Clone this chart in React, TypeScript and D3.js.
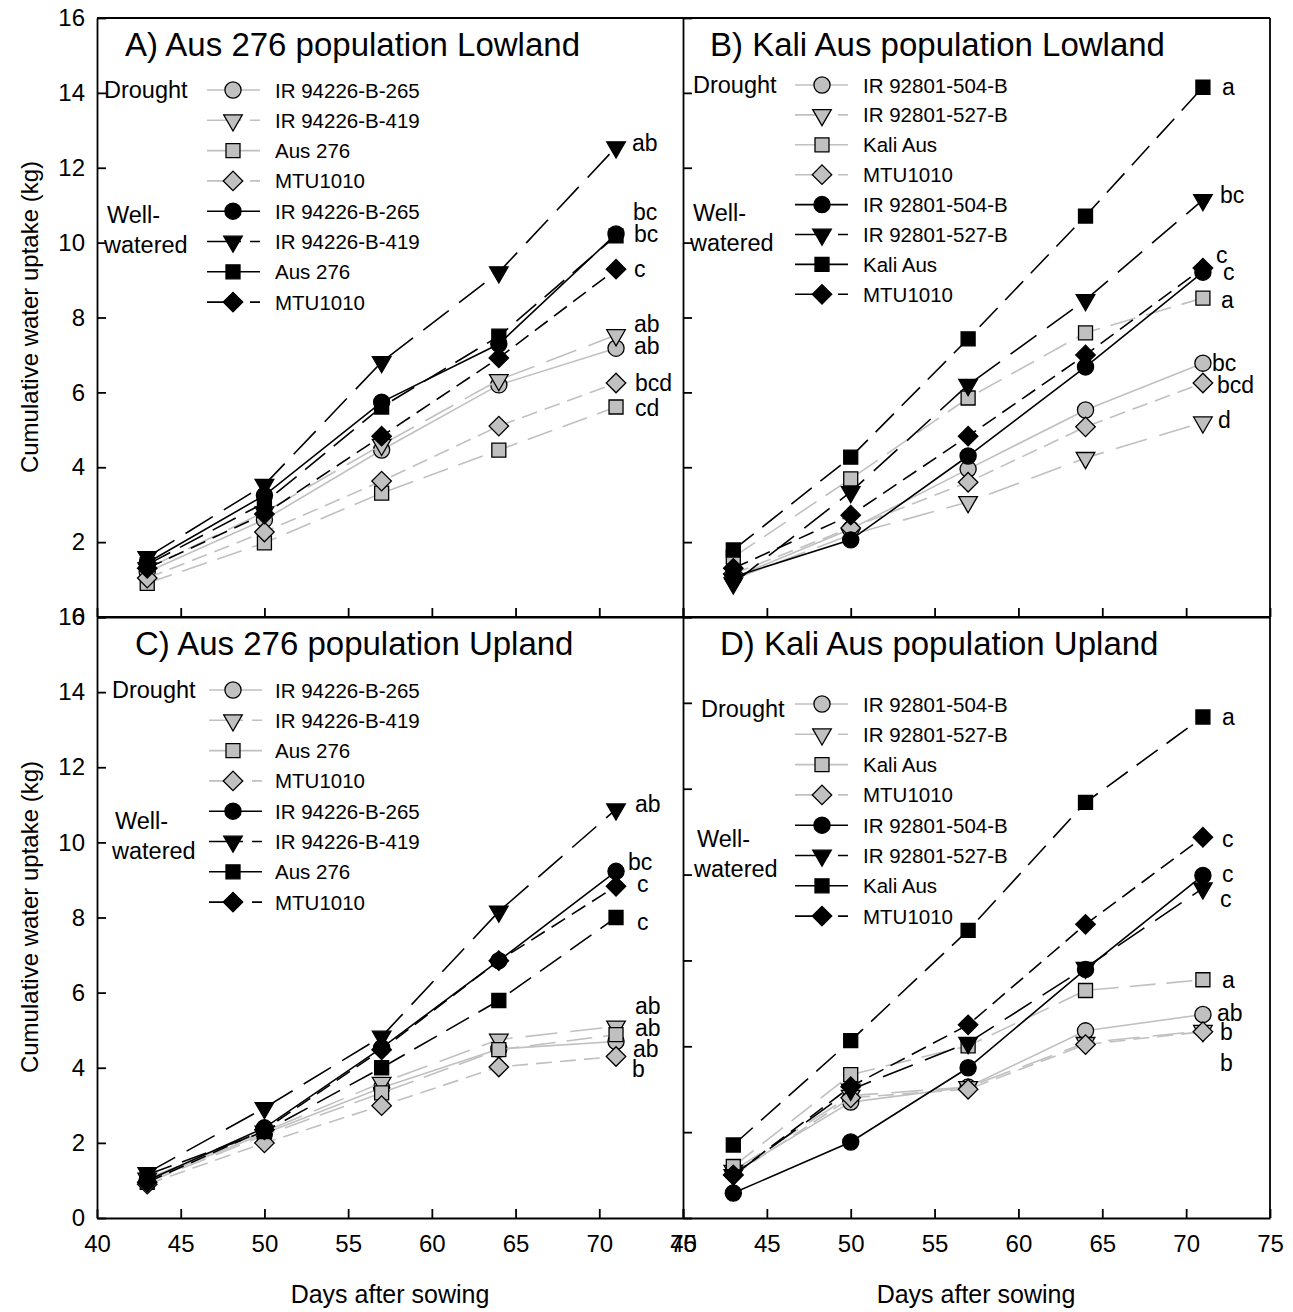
import React, { useEffect, useRef } from 'react';
import * as d3 from 'd3';

// sampling days (x)
const days = [43, 50, 57, 64, 71];
const xTicks = [40, 45, 50, 55, 60, 65, 70, 75];
const yTicks16 = [0, 2, 4, 6, 8, 10, 12, 14, 16];
const yTicks14 = [0, 2, 4, 6, 8, 10, 12, 14];

const aus276Lines = ['IR 94226-B-265', 'IR 94226-B-419', 'Aus 276', 'MTU1010'];
const kaliLines = ['IR 92801-504-B', 'IR 92801-527-B', 'Kali Aus', 'MTU1010'];

// A) Aus 276 Lowland
const aDrought = [
  [1.2, 2.6, 4.46, 6.2, 7.18],
  [1.3, 2.8, 4.6, 6.33, 7.53],
  [0.9, 1.98, 3.31, 4.46, 5.61],
  [1.04, 2.27, 3.63, 5.1, 6.25],
];
const aWell = [
  [1.45, 3.25, 5.74, 7.29, 10.23],
  [1.6, 3.53, 6.81, 9.21, 12.55],
  [1.4, 3.05, 5.61, 7.5, 10.18],
  [1.3, 2.75, 4.83, 6.92, 9.29],
];
const aDroughtLetters = ['ab', 'ab', 'cd', 'bcd'];
const aWellLetters = ['bc', 'ab', 'bc', 'c'];

// B) Kali Aus Lowland
const bDrought = [
  [1.05, 2.35, 3.95, 5.53, 6.78],
  [1.0, 2.2, 3.07, 4.25, 5.2],
  [1.6, 3.69, 5.85, 7.59, 8.52],
  [1.15, 2.38, 3.6, 5.08, 6.25],
];
const bWell = [
  [1.07, 2.06, 4.3, 6.68, 9.21],
  [0.9, 3.34, 6.2, 8.47, 11.14],
  [1.79, 4.27, 7.43, 10.71, 14.15],
  [1.3, 2.72, 4.83, 7.0, 9.32],
];
const bDroughtLetters = ['bc', 'd', 'a', 'bcd'];
const bWellLetters = ['c', 'bc', 'a', 'c'];

// C) Aus 276 Upland
const cDrought = [
  [1.0, 2.25, 3.47, 4.5, 4.7],
  [1.05, 2.3, 3.6, 4.75, 5.1],
  [0.95, 2.2, 3.33, 4.48, 4.88],
  [0.9, 2.0, 2.99, 4.02, 4.3],
];
const cWell = [
  [1.0, 2.4, 4.53, 6.85, 9.23],
  [1.2, 2.93, 4.83, 8.16, 10.88],
  [1.15, 2.3, 4.0, 5.79, 8.0],
  [0.95, 2.35, 4.48, 6.85, 8.83],
];
const cDroughtLetters = ['ab', 'ab', 'ab', 'b'];
const cWellLetters = ['bc', 'ab', 'c', 'c'];

// D) Kali Aus Upland (axis 0-14)
const dDrought = [
  [1.05, 2.7, 3.05, 4.36, 4.74],
  [1.1, 2.85, 3.05, 4.08, 4.36],
  [1.2, 3.34, 4.01, 5.3, 5.55],
  [1.0, 2.8, 3.0, 4.04, 4.34],
];
const dWell = [
  [0.58, 1.77, 3.5, 5.79, 7.98],
  [1.0, 2.99, 4.08, 5.83, 7.68],
  [1.7, 4.13, 6.7, 9.68, 11.67],
  [1.0, 3.06, 4.5, 6.84, 8.87],
];
const dDroughtLetters = ['ab', 'b', 'a', 'b'];
const dWellLetters = ['c', 'c', 'a', 'c'];

const FONT = 'Liberation Sans, Arial, sans-serif';
const GRAY = '#c0c0c0';
const dashes = [null, '32,13', '26,11', '16,8'];
const legendDashes = [null, '34,9', null, '34,9'];

const panels = [
  {
    title: 'A) Aus 276 population Lowland', names: aus276Lines,
    drought: aDrought, well: aWell, dLet: aDroughtLetters, wLet: aWellLetters,
    left: 97, right: 683, top: 18, bottom: 617, yMax: 16, yTicks: yTicks16,
    yLabels: true, xLabels: false, titleX: 125, titleY: 56,
    leg: { dx: 104, dy: 90, wx: 107, wy: 215, l0: 207, l1: 260, mx: 233, tx: 275, r0: 90, step: 30.3 },
    dNudge: [[18, -2], [18, -11], [19, 1], [19, 0]],
    wNudge: [[17, -22], [16, -4], [18, -2], [18, 0]],
  },
  {
    title: 'B) Kali Aus population Lowland', names: kaliLines,
    drought: bDrought, well: bWell, dLet: bDroughtLetters, wLet: bWellLetters,
    left: 683, right: 1270, top: 18, bottom: 617, yMax: 16, yTicks: yTicks16,
    yLabels: false, xLabels: false, titleX: 710, titleY: 56,
    leg: { dx: 693, dy: 85, wx: 693, wy: 213, l0: 795, l1: 848, mx: 822, tx: 863, r0: 85, step: 29.9 },
    dNudge: [[9, 0], [15, -2], [18, 2], [14, 2]],
    wNudge: [[20, 0], [17, -5], [19, 0], [13, -13]],
  },
  {
    title: 'C) Aus 276 population Upland', names: aus276Lines,
    drought: cDrought, well: cWell, dLet: cDroughtLetters, wLet: cWellLetters,
    left: 97, right: 683, top: 617, bottom: 1218, yMax: 16, yTicks: yTicks16,
    yLabels: true, xLabels: true, titleX: 135, titleY: 655,
    leg: { dx: 112, dy: 690, wx: 115, wy: 821, l0: 209, l1: 262, mx: 233, tx: 275, r0: 690, step: 30.3 },
    dNudge: [[17, 8], [19, -20], [19, -7], [16, 13]],
    wNudge: [[12, -9], [19, -5], [21, 4], [21, -2]],
  },
  {
    title: 'D) Kali Aus population Upland', names: kaliLines,
    drought: dDrought, well: dWell, dLet: dDroughtLetters, wLet: dWellLetters,
    left: 683, right: 1270, top: 617, bottom: 1218, yMax: 14, yTicks: yTicks14,
    yLabels: false, xLabels: true, titleX: 720, titleY: 655,
    leg: { dx: 701, dy: 709, wx: 697, wy: 839, l0: 795, l1: 848, mx: 822, tx: 863, r0: 704, step: 30.3 },
    dNudge: [[14, -2], [17, 1], [19, 0], [17, 31]],
    wNudge: [[19, -1], [17, 11], [19, 0], [19, 2]],
  },
];

const symbolPath = (i: number) => {
  if (i === 0) return d3.symbol(d3.symbolCircle, 205)();
  if (i === 1) return d3.symbol(d3.symbolTriangle, 150)();
  if (i === 2) return d3.symbol(d3.symbolSquare, 196)();
  return d3.symbol(d3.symbolSquare, 190)();
};
const symbolRot = (i: number) => (i === 1 ? 180 : i === 3 ? 45 : 0);

const App = () => {
  const ref = useRef<SVGSVGElement>(null);

  useEffect(() => {
    const svg = d3.select(ref.current);
    svg.selectAll('*').remove();

    panels.forEach((p) => {
      const x = d3.scaleLinear().domain([40, 75]).range([p.left, p.right]);
      const y = d3.scaleLinear().domain([0, p.yMax]).range([p.bottom, p.top]);
      const g = svg.append('g');

      // series: drought (gray) first, then well-watered (black)
      const groups = [
        { vals: p.drought, stroke: GRAY, fill: GRAY, letters: p.dLet, nudge: p.dNudge },
        { vals: p.well, stroke: '#000', fill: '#000', letters: p.wLet, nudge: p.wNudge },
      ];
      const line = d3.line<number>().x((_, i) => x(days[i])).y((d) => y(d));
      groups.forEach((grp) => {
        grp.vals.forEach((vals, si) => {
          g.append('path')
            .attr('d', line(vals))
            .attr('fill', 'none')
            .attr('stroke', grp.stroke)
            .attr('stroke-width', 1.6)
            .attr('stroke-dasharray', dashes[si]);
          g.selectAll(null)
            .data(vals)
            .enter()
            .append('path')
            .attr('d', symbolPath(si))
            .attr('transform', (d, i) => `translate(${x(days[i])},${y(d)}) rotate(${symbolRot(si)})`)
            .attr('fill', grp.fill)
            .attr('stroke', '#000')
            .attr('stroke-width', 1.3);
        });
      });
      // significance letters next to last point
      groups.forEach((grp) => {
        grp.vals.forEach((vals, si) => {
          const last = vals.length - 1;
          g.append('text')
            .attr('x', x(days[last]) + grp.nudge[si][0])
            .attr('y', y(vals[last]) + grp.nudge[si][1] + 8)
            .attr('font-family', FONT)
            .attr('font-size', 23)
            .text(grp.letters[si]);
        });
      });

      // axes
      const yAxis = d3.axisLeft(y).tickValues(p.yTicks).tickSize(-9).tickSizeOuter(0).tickPadding(12)
        .tickFormat((d) => (p.yLabels ? String(d) : ''));
      const ya = g.append('g').attr('transform', `translate(${p.left},0)`).call(yAxis);
      const xAxis = d3.axisBottom(x).tickValues(xTicks).tickSize(-9).tickSizeOuter(0).tickPadding(17)
        .tickFormat((d) => (p.xLabels ? String(d) : ''));
      const xa = g.append('g').attr('transform', `translate(0,${p.bottom})`).call(xAxis);
      [ya, xa].forEach((a) => {
        a.attr('font-family', FONT).attr('font-size', 24);
        a.selectAll('path,line').attr('stroke', '#000').attr('stroke-width', 1.8);
        a.selectAll('text').attr('fill', '#000');
      });
      // frame
      g.append('line').attr('x1', p.left).attr('x2', p.right).attr('y1', p.top).attr('y2', p.top)
        .attr('stroke', '#000').attr('stroke-width', 1.8);
      if (p.right > 1000) {
        g.append('line').attr('x1', p.right).attr('x2', p.right).attr('y1', p.top).attr('y2', p.bottom)
          .attr('stroke', '#000').attr('stroke-width', 1.8);
      }

      // title
      g.append('text').attr('x', p.titleX).attr('y', p.titleY)
        .attr('font-family', FONT).attr('font-size', 33).text(p.title);

      // legend
      const L = p.leg;
      const lab = (tx: number, ty: number, s: string) =>
        g.append('text').attr('x', tx).attr('y', ty + 8).attr('font-family', FONT).attr('font-size', 23.5).text(s);
      lab(L.dx, L.dy, 'Drought');
      lab(L.wx, L.wy, 'Well-');
      lab(L.wx - 3, L.wy + 30, 'watered');
      [GRAY, '#000'].forEach((col, gi) => {
        p.names.forEach((name, si) => {
          const ry = L.r0 + (gi * 4 + si) * L.step;
          g.append('line').attr('x1', L.l0).attr('x2', L.l1).attr('y1', ry).attr('y2', ry)
            .attr('stroke', col).attr('stroke-width', 1.6).attr('stroke-dasharray', legendDashes[si]);
          g.append('path').attr('d', symbolPath(si))
            .attr('transform', `translate(${L.mx},${ry}) rotate(${symbolRot(si)})`)
            .attr('fill', col).attr('stroke', '#000').attr('stroke-width', 1.3);
          g.append('text').attr('x', L.tx).attr('y', ry + 7.5)
            .attr('font-family', FONT).attr('font-size', 20.5).text(name);
        });
      });
    });

    // axis titles
    [317, 917].forEach((cy) => {
      svg.append('text').attr('transform', `translate(38,${cy}) rotate(-90)`)
        .attr('text-anchor', 'middle').attr('font-family', FONT).attr('font-size', 24)
        .text('Cumulative water uptake (kg)');
    });
    [390, 976].forEach((cx) => {
      svg.append('text').attr('x', cx).attr('y', 1303)
        .attr('text-anchor', 'middle').attr('font-family', FONT).attr('font-size', 25)
        .text('Days after sowing');
    });
  }, []);

  return (
    <svg ref={ref} width={1293} height={1312}
      style={{ position: 'absolute', left: 0, top: 0, background: '#fff' }} />
  );
};

export default App;
